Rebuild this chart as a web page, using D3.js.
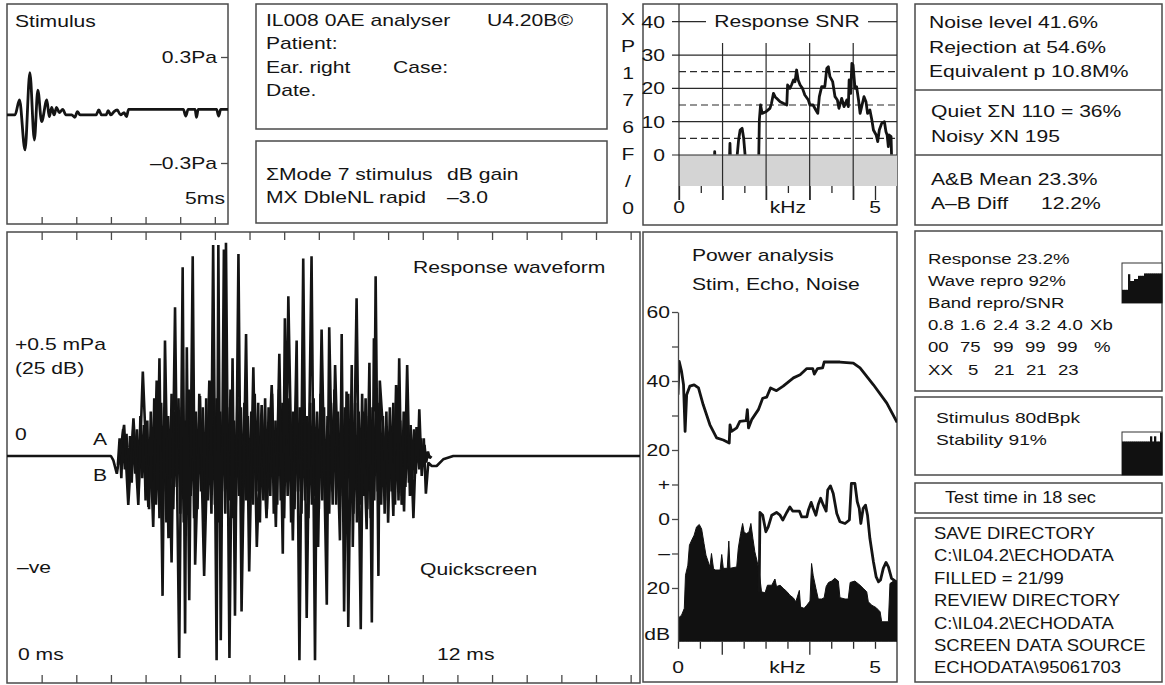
<!DOCTYPE html>
<html>
<head>
<meta charset="utf-8">
<script src="https://cdn.jsdelivr.net/npm/d3@7"></script>
<style>
  html, body { margin: 0; padding: 0; background: #fff; }
  svg { display: block; }
  text { font-family: "Liberation Sans", Arial, sans-serif; fill: #141414; }
</style>
</head>
<body>
<svg id="screen" width="1165" height="685"></svg>
<script>
// ---------------- data ----------------

// Stimulus click: [time ms, pressure Pa]
const stimulusTrace = [
  [0.00,-0.028],[0.23,-0.028],[0.36,0.057],[0.52,-0.226],[0.66,0.211],[0.79,-0.170],
  [0.89,0.113],[1.00,-0.066],[1.15,0.057],[1.22,-0.038],[1.29,0.015],[1.36,-0.028],
  [1.43,0.015],[1.51,-0.015],[1.61,0.004],[1.70,-0.028],[1.87,-0.028],[1.96,-0.041],
  [2.03,-0.009],[2.11,-0.028],[2.57,-0.028],[2.65,0.000],[2.73,-0.028],[2.86,-0.028],
  [2.92,-0.004],[3.00,-0.028],[3.09,-0.009],[3.18,0.000],[3.28,-0.028],[3.38,-0.015],
  [3.45,-0.038],[3.51,0.004],[5.09,0.004],[5.16,-0.034],[5.23,0.004],[5.43,0.004],
  [5.47,-0.041],[5.52,0.004],[6.05,0.004],[6.11,-0.034],[6.17,0.004],[6.38,0.004]
];
const stimulusTicksMs = [1, 2, 3, 4, 5, 6];
const stimulusPaTicks = [0.3, -0.3];
const stimulusPaLabels = ["0.3Pa", "\u20130.3Pa"];

// Response SNR: [frequency kHz, SNR dB]
const snrTrace = [
  [0.00,-4],[0.90,-4],[0.91,1],[0.93,-4],
  [1.28,-4],[1.30,3.5],[1.32,-4],
  [1.47,-2],[1.52,4.5],[1.56,7.5],[1.61,8],[1.65,5],[1.70,-2],
  [2.03,-4],[2.05,10.5],[2.08,15],[2.12,12.5],[2.22,13],[2.32,14],[2.36,15.5],[2.41,18.5],
  [2.45,17.5],[2.49,17],[2.58,16],[2.66,15.5],[2.75,15],[2.77,21],[2.83,20],[2.87,21],
  [2.92,22.5],[2.96,22],[3.00,25.5],[3.04,22.5],[3.09,21],[3.15,20],[3.21,18],[3.30,16.5],
  [3.34,15],[3.42,15],[3.49,13.5],[3.54,12.5],[3.58,17.5],[3.64,20.5],[3.72,20.5],[3.77,26],
  [3.81,26.5],[3.85,23.5],[3.92,22],[3.98,17.5],[4.04,16.5],[4.08,14],[4.15,17],[4.21,14.5],
  [4.28,16.5],[4.32,14.5],[4.34,22.5],[4.38,18.5],[4.41,27.5],[4.44,27],[4.49,20],[4.53,20.5],
  [4.58,16.5],[4.62,12.5],[4.66,14.5],[4.72,17.5],[4.77,16],[4.81,12.5],[4.87,13.5],[4.92,10.5],
  [4.96,7.5],[5.03,6],[5.07,4],[5.11,7.5],[5.17,9.5],[5.24,10],[5.28,7],[5.31,6],[5.34,2.5],
  [5.36,6],[5.41,5.5],[5.43,-4],[5.56,-4]
];
const snrTickValues = [40, 30, 20, 10, 0];
const snrSolidGrid = [10, 20, 30];
const snrDashedGrid = [5, 15, 25];
const snrFloor = -9.3;

// Frequency axis shared by the two spectra: ten ticks across 0..5 kHz
const kHzTicks = [0, 0.556, 1.111, 1.667, 2.222, 2.778, 3.333, 3.889, 4.444, 5.0];
const kHzLabels = ["0", "", "", "", "", "kHz", "", "", "", "5"];

// Power analysis: [frequency kHz, level dB]
const stimPower = [
  [0.00,36],[0.03,45.7],[0.09,42.8],[0.14,38.9],[0.18,25.4],[0.22,36],[0.30,38.5],[0.41,38.9],
  [0.52,38],[0.64,33.1],[0.81,27.3],[0.98,23.5],[1.15,22.9],[1.30,22],[1.32,27.3],[1.36,25.4],
  [1.49,26.4],[1.57,28.3],[1.73,28.5],[1.76,31.7],[1.79,26.4],[1.87,28.8],[2.04,31.7],[2.15,35],
  [2.25,35.3],[2.35,38],[2.50,37.2],[2.67,38.5],[2.93,40.9],[3.10,41.8],[3.27,43.6],[3.42,43.6],
  [3.46,42],[3.54,43.6],[3.67,43.8],[3.71,45.5],[4.11,45.5],[4.45,45.2],[4.62,43.8],[4.96,38.9],
  [5.30,33.6],[5.56,28.0]
];
const echoPower = [
  [2.06,-21.1],[2.08,1.9],[2.15,1.1],[2.23,-3.7],[2.29,-2.3],[2.38,1.1],[2.50,1.9],[2.59,1.1],
  [2.66,-0.3],[2.76,1.9],[2.84,3.5],[2.91,2.3],[3.08,2.3],[3.14,0.6],[3.27,0.6],[3.31,2.6],
  [3.38,4.8],[3.43,3.1],[3.50,1.1],[3.56,4.2],[3.62,6.0],[3.69,4.0],[3.76,2.3],[3.80,8.4],
  [3.87,9.6],[3.94,7.4],[4.03,1.6],[4.11,-0.8],[4.24,-1.3],[4.35,-0.3],[4.40,10.3],[4.49,10.3],
  [4.55,5.0],[4.60,3.1],[4.64,-1.3],[4.70,3.1],[4.76,4.0],[4.81,1.1],[4.87,-5.6],[4.96,-12.4],
  [5.03,-16.8],[5.09,-18.2],[5.14,-17.7],[5.21,-14.3],[5.28,-12.6],[5.34,-13.9],[5.42,-17.2],
  [5.56,-18.4]
];
const noisePower = [
  [0.00,-28.8],[0.09,-27.9],[0.16,-25.9],[0.19,-16.3],[0.25,-13.4],[0.29,-7.6],[0.35,-6.1],
  [0.41,-4.7],[0.47,-2.3],[0.54,-1.6],[0.60,-2.9],[0.66,-7.1],[0.71,-10.5],[0.81,-13.9],
  [0.85,-10.0],[0.90,-14.3],[0.94,-14.8],[1.07,-14.8],[1.11,-10.3],[1.15,-14.3],[1.25,-14.3],
  [1.29,-6.4],[1.32,-14.3],[1.49,-13.9],[1.53,-8.5],[1.59,-4.2],[1.64,-1.3],[1.68,-3.9],
  [1.74,-4.2],[1.80,-3.8],[1.85,-1.3],[1.90,-5.6],[1.95,-9.5],[2.01,-12.4],[2.06,-15.3],
  [2.12,-21.1],[2.21,-21.4],[2.27,-19.2],[2.38,-19.2],[2.46,-17.4],[2.50,-19.6],[2.59,-19.2],
  [2.67,-20.1],[2.76,-21.0],[2.84,-22.1],[2.93,-22.9],[2.99,-24.0],[3.08,-20.7],[3.11,-25.5],
  [3.20,-25.9],[3.27,-25.0],[3.35,-23.8],[3.39,-12.9],[3.43,-16.3],[3.50,-20.1],[3.56,-23.2],
  [3.65,-23.2],[3.71,-22.8],[3.76,-19.6],[3.82,-18.4],[3.90,-18.0],[3.98,-17.2],[4.07,-18.0],
  [4.11,-22.8],[4.24,-23.2],[4.32,-23.2],[4.37,-18.4],[4.49,-18.0],[4.62,-19.2],[4.70,-20.1],
  [4.79,-21.1],[4.83,-24.0],[4.92,-25.0],[5.03,-25.7],[5.13,-26.9],[5.17,-29.8],[5.34,-29.8],
  [5.38,-18.7],[5.47,-18.0],[5.56,-18.0]
];
const powerTickValues = [60, 50, 40, 30, 20, 10, 0, -10, -20];
const powerTickLabels = ["60", "", "40", "", "20", "+", "0", "\u2013", "20"];
const powerFloor = -35.6;

// Response waveform A: [time ms, amplitude (1 = full scale)]
const waveA = [
  [0,0],[3.00,0],[3.07,-0.02],[3.17,-0.08],[3.38,0.14],[3.50,-0.22],[3.65,0.17],[3.79,-0.22],
  [3.92,0.38],[4.08,-0.23],[4.15,0.0],[4.22,-0.32],[4.32,0.34],[4.36,0.05],[4.40,0.44],
  [4.49,-0.63],[4.56,0.52],[4.66,-0.37],[4.70,-0.1],[4.75,-0.48],[4.85,0.67],[4.97,-0.91],
  [5.07,0.85],[5.14,-0.80],[5.19,0.49],[5.26,-0.65],[5.36,0.90],[5.43,-0.49],[5.57,0.27],
  [5.69,-0.54],[5.84,0.34],[5.90,0.0],[5.95,0.95],[6.05,-0.92],[6.10,0.95],[6.17,-0.83],
  [6.26,0.93],[6.29,0.1],[6.32,0.96],[6.42,-0.91],[6.51,0.44],[6.58,-0.72],[6.68,0.91],
  [6.77,-0.70],[6.90,0.55],[6.99,-0.52],[7.11,0.40],[7.21,-0.41],[7.35,0.23],[7.49,-0.28],
  [7.64,0.32],[7.76,-0.32],[7.86,0.46],[7.96,-0.44],[8.02,0.62],[8.07,0.05],[8.12,0.72],
  [8.25,-0.38],[8.36,0.52],[8.44,-0.92],[8.55,0.89],[8.65,-0.73],[8.79,0.90],[8.89,-0.92],
  [8.94,0.1],[8.98,-0.41],[9.08,0.57],[9.23,-0.67],[9.30,0.58],[9.40,-0.22],[9.47,0.41],
  [9.61,-0.38],[9.66,0.55],[9.73,-0.70],[9.80,0.29],[9.85,-0.77],[9.95,0.41],[9.98,-0.41],
  [10.09,0.71],[10.21,-0.78],[10.27,0.20],[10.38,-0.33],[10.46,0.42],[10.53,-0.75],
  [10.59,0.53],[10.61,0.2],[10.64,0.81],[10.72,-0.54],[10.76,0.34],[10.91,-0.02],[10.95,0.1],
  [11.00,-0.30],[11.07,0.13],[11.15,-0.27],[11.23,0.32],[11.28,0.0],[11.32,0.44],[11.39,-0.22],
  [11.42,-0.05],[11.46,-0.25],[11.55,0.41],[11.63,-0.18],[11.68,-0.05],[11.73,-0.28],
  [11.82,0.13],[11.86,0.0],[11.90,0.21],[11.97,-0.09],[12.03,0.08],[12.09,-0.17],[12.16,-0.03],
  [12.26,-0.045],[12.40,-0.045],[12.59,-0.015],[12.88,0],[18.27,0]
];
// Response waveform B: sampled every 0.05 ms from 3.2 ms
const waveBStart = 3.2, waveBStep = 0.05;
const waveB = [
  -0.04,0.08,-0.10,0.12,-0.06,0.10,-0.14,0.09,-0.12,0.15,-0.08,0.12,-0.16,0.18,-0.10,0.14,
  -0.20,0.16,-0.24,0.20,-0.18,0.26,-0.22,0.14,-0.28,0.24,-0.16,0.22,-0.30,0.18,-0.20,0.28,-0.24,0.20,-0.14,0.26,
  -0.26,0.22,-0.30,0.16,-0.22,0.30,-0.18,0.24,-0.28,0.20,-0.24,0.28,-0.16,0.22,-0.30,0.26,-0.20,0.18,-0.26,0.30,
  -0.22,0.26,-0.30,0.20,-0.16,0.28,-0.26,0.22,-0.20,0.30,-0.28,0.16,-0.24,0.26,-0.18,0.22,-0.30,0.24,-0.20,0.18,
  -0.26,0.20,-0.22,0.28,-0.16,0.24,-0.30,0.18,-0.20,0.26,-0.24,0.22,-0.18,0.28,-0.26,0.16,-0.22,0.30,-0.20,0.24,
  -0.28,0.22,-0.18,0.26,-0.30,0.20,-0.24,0.28,-0.16,0.22,-0.26,0.30,-0.20,0.18,-0.28,0.24,-0.22,0.26,-0.18,0.20,
  -0.24,0.28,-0.20,0.22,-0.30,0.18,-0.26,0.24,-0.16,0.30,-0.22,0.20,-0.28,0.26,-0.18,0.22,-0.24,0.28,-0.20,0.16,
  -0.26,0.24,-0.30,0.20,-0.22,0.28,-0.18,0.26,-0.24,0.18,-0.28,0.22,-0.20,0.26,-0.16,0.24,-0.22,0.18,-0.26,0.20,
  -0.20,0.22,-0.16,0.24,-0.22,0.18,-0.20,0.16,-0.18,0.20,-0.14,0.16,-0.12,0.14,-0.10,0.12,-0.08,0.10,-0.06,0.08,
  -0.04,0.05,-0.03,0.02,-0.01,0.0
];
const waveTicksMs = [1,2,3,4,5,6,7,8,9,10,11,12,13,14,15,16,17,18];

// Mini reproducibility / stability bars (fraction of box height)
const reproBars = [0.33,0.33,0.33,0.72,0.55,0.55,0.6,0.6,0.68,0.68,0.68,0.74,0.74,0.74,0.74,0.74,0.74,0.74,0.74,0.74];
const stabilityBars = [0.78,0.78,0.78,0.78,0.78,0.78,0.78,0.78,0.78,0.78,0.78,0.78,0.78,0.78,0.9,0.78,0.9,0.78,0.78,0.99];

// Text blocks
const headerLines = ["IL008 0AE analyser", "Patient:", "Ear. right", "Date."];
const modeLines = ["\u03A3Mode 7 stimulus", "MX DbleNL rapid"];
const modeValues = ["dB gain", "\u20133.0"];
const sideLetters = ["X", "P", "1", "7", "6", "F", "/", "0"];
const noiseLines = ["Noise level 41.6%", "Rejection at 54.6%", "Equivalent p 10.8M%"];
const quietLines = ["Quiet \u03A3N 110 = 36%", "Noisy XN 195"];
const responseLines = ["Response 23.2%", "Wave repro 92%", "Band repro/SNR"];
const bandFreqs = ["0.8", "1.6", "2.4", "3.2", "4.0", "Xb"];
const bandRepro = ["00", "75", "99", "99", "99", "%"];
const bandSnr = ["XX", "5", "21", "21", "23"];
const saveLines = ["SAVE DIRECTORY", "C:\\IL04.2\\ECHODATA", "FILLED = 21/99",
  "REVIEW DIRECTORY", "C:\\IL04.2\\ECHODATA", "SCREEN DATA SOURCE", "ECHODATA\\95061703"];

// ---------------- drawing ----------------
const svg = d3.select("#screen");
const INK = "#141414", FRAME = "#4a4a4a", GRID = "#2a2a2a";
const SX = 1.32;   // wide screen lettering

function label(x, y, s, size = 16, anchor = "start", sx = SX) {
  return svg.append("text")
    .attr("transform", `translate(${x},${y}) scale(${sx},1)`)
    .attr("font-size", size)
    .attr("text-anchor", anchor)
    .text(s);
}
function frame(x0, y0, x1, y1) {
  svg.append("rect")
    .attr("x", x0).attr("y", y0).attr("width", x1 - x0).attr("height", y1 - y0)
    .attr("fill", "none").attr("stroke", FRAME).attr("stroke-width", 1.5);
}
function hline(x0, x1, y, opts = {}) {
  svg.append("line").attr("x1", x0).attr("x2", x1).attr("y1", y).attr("y2", y)
    .attr("stroke", opts.color || GRID).attr("stroke-width", opts.width || 1.2)
    .attr("stroke-dasharray", opts.dash || null);
}
function vline(x, y0, y1, opts = {}) {
  svg.append("line").attr("x1", x).attr("x2", x).attr("y1", y0).attr("y2", y1)
    .attr("stroke", opts.color || GRID).attr("stroke-width", opts.width || 1.2);
}
function styleAxis(g) {
  g.selectAll("line").attr("stroke", FRAME).attr("stroke-width", 1.3);
  g.selectAll("path.domain").attr("stroke", FRAME).attr("stroke-width", 1.3);
  g.selectAll("text").remove();
}
const defs = svg.append("defs");
function clip(id, x0, y0, x1, y1) {
  defs.append("clipPath").attr("id", id).append("rect")
    .attr("x", x0).attr("y", y0).attr("width", x1 - x0).attr("height", y1 - y0);
  return `url(#${id})`;
}

// ----- Stimulus panel -----
{
  const x = d3.scaleLinear().domain([0, 6.38]).range([7, 228]);
  const y = d3.scaleLinear().domain([-0.3, 0.3]).range([163, 57]);
  frame(7, 4, 228, 224);
  svg.append("g").attr("transform", "translate(0,224)")
    .call(d3.axisTop(x).tickValues(stimulusTicksMs).tickSize(7).tickSizeOuter(0))
    .call(styleAxis).select("path.domain").remove();
  svg.append("g").attr("transform", "translate(228,0)")
    .call(d3.axisLeft(y).tickValues(stimulusPaTicks).tickSize(7).tickSizeOuter(0))
    .call(styleAxis).select("path.domain").remove();
  stimulusPaTicks.forEach((v, i) => label(217, y(v) + 6, stimulusPaLabels[i], 16, "end"));
  label(15, 27, "Stimulus");
  label(225, 204, "5ms", 16, "end");
  svg.append("path").datum(stimulusTrace)
    .attr("clip-path", clip("clipStim", 7, 4, 228, 224))
    .attr("fill", "none").attr("stroke", INK).attr("stroke-width", 2.8)
    .attr("stroke-linejoin", "round")
    .attr("d", d3.line().x(d => x(d[0])).y(d => y(d[1])).curve(d3.curveMonotoneX));
}

// ----- Header text panels -----
frame(256, 4, 607, 129);
headerLines.forEach((s, i) => label(266, 26 + i * 23.3, s));
label(487, 26, "U4.20B\u00A9");
label(393, 72.6, "Case:");
frame(256, 141, 607, 223);
modeLines.forEach((s, i) => label(266, 180 + i * 23, s));
modeValues.forEach((s, i) => label(447, 180 + i * 23, s));
sideLetters.forEach((s, i) => label(628, 25 + i * 27, s, 16, "middle"));

// ----- Response SNR panel -----
{
  const x = d3.scaleLinear().domain([0, 5]).range([679, 875]);
  const y = d3.scaleLinear().domain([0, 40]).range([155, 21.7]);
  frame(643, 4, 897, 225);
  svg.append("rect").attr("x", x(0)).attr("y", y(0))
    .attr("width", 897 - x(0)).attr("height", y(snrFloor) - y(0)).attr("fill", "#d4d4d4");
  snrSolidGrid.concat([0]).forEach(v => hline(672, 897, y(v)));
  snrDashedGrid.forEach(v => hline(679, 897, y(v), { dash: "7,4" }));
  // title sits on the 40 dB line
  hline(672, 706, y(40));
  hline(868, 897, y(40));
  label(787, 27, "Response SNR", 16, "middle");
  snrTickValues.forEach(v => label(665, y(v) + 6, String(v), 16, "end"));
  // verticals through the band edges
  kHzTicks.forEach((k, i) => {
    if (i > 0 && i < 9 && i % 2 === 0) vline(x(k), 43, 200);
  });
  vline(x(0), 4, 200);
  const ax = svg.append("g").attr("transform", `translate(0,${y(snrFloor)})`)
    .call(d3.axisBottom(x).tickValues(kHzTicks).tickSize(7).tickSizeOuter(0))
    .call(styleAxis);
  ax.select("path.domain").remove();
  ax.selectAll(".tick line").attr("stroke", GRID)
    .attr("y2", (d, i) => (i % 2 === 0 || i === 9) ? 14 : 7);
  kHzTicks.forEach((k, i) => { if (kHzLabels[i]) label(x(k), 213, kHzLabels[i], 16, "middle"); });
  svg.append("path").datum(snrTrace)
    .attr("clip-path", clip("clipSnr", x(0), 4, 897, y(0) - 0.5))
    .attr("fill", "none").attr("stroke", INK).attr("stroke-width", 2.8)
    .attr("stroke-linejoin", "round")
    .attr("d", d3.line().x(d => x(d[0])).y(d => y(d[1])));
}

// ----- Right-hand status panels -----
frame(915, 4, 1162, 225);
hline(915, 1162, 90, { color: FRAME, width: 1.5 });
hline(915, 1162, 155, { color: FRAME, width: 1.5 });
noiseLines.forEach((s, i) => label(929, 28 + i * 24.7, s));
quietLines.forEach((s, i) => label(931, 117 + i * 25, s));
label(931, 185, "A&B Mean 23.3%");
label(931, 209, "A\u2013B Diff");
label(1041, 209, "12.2%");

frame(915, 231, 1162, 391);
responseLines.forEach((s, i) => label(928, 264 + i * 22, s, 15, "start", 1.24));
const bandCols = [928, 960, 993, 1025, 1057, 1090];
bandFreqs.forEach((s, i) => label(bandCols[i], 330, s, 15, "start", 1.24));
bandRepro.forEach((s, i) => label(i === 5 ? 1094 : bandCols[i], 352, s, 15, "start", 1.24));
const snrCols = [928, 968, 994, 1026, 1058];
bandSnr.forEach((s, i) => label(snrCols[i], 375, s, 15, "start", 1.24));

frame(915, 397, 1162, 475);
label(936, 423, "Stimulus 80dBpk", 15, "start", 1.28);
label(936, 445, "Stability 91%", 15, "start", 1.28);

frame(915, 483, 1162, 513);
label(945, 503, "Test time in 18 sec", 16, "start", 1.14);

frame(915, 518, 1162, 682);
saveLines.forEach((s, i) => label(934, 539 + i * 22.4, s, 16, "start", 1.155));

// mini bar boxes
function miniBars(values, x0, y0, x1, y1) {
  const bx = d3.scaleBand().domain(d3.range(values.length)).range([x0, x1]).padding(0);
  const by = d3.scaleLinear().domain([0, 1]).range([y1, y0]);
  svg.append("rect").attr("x", x0).attr("y", y0).attr("width", x1 - x0).attr("height", y1 - y0)
    .attr("fill", "#fff").attr("stroke", "#333").attr("stroke-width", 1);
  svg.append("g").selectAll("rect").data(values).join("rect")
    .attr("x", (d, i) => bx(i)).attr("width", bx.bandwidth() + 0.3)
    .attr("y", d => by(d)).attr("height", d => y1 - by(d))
    .attr("fill", "#111");
}
miniBars(reproBars, 1122, 263, 1162, 303);
miniBars(stabilityBars, 1122, 432, 1162, 475);

// ----- Response waveform panel -----
{
  const x = d3.scaleLinear().domain([0, 18.27]).range([7, 640]);
  const y = d3.scaleLinear().domain([-1, 1]).range([678, 234]);
  frame(7, 232, 640, 683);
  svg.append("g").attr("transform", "translate(0,232)")
    .call(d3.axisBottom(x).tickValues(waveTicksMs).tickSize(8).tickSizeOuter(0))
    .call(styleAxis).select("path.domain").remove();
  svg.append("g").attr("transform", "translate(0,683)")
    .call(d3.axisTop(x).tickValues(waveTicksMs).tickSize(8).tickSizeOuter(0))
    .call(styleAxis).select("path.domain").remove();
  const cp = clip("clipWave", 7, 232, 640, 683);
  const waveLine = d3.line().x(d => x(d[0])).y(d => y(d[1]));
  const waveBPoints = waveB.map((v, i) => [waveBStart + i * waveBStep, v]);
  [waveBPoints, waveA].forEach(series => {
    svg.append("path").datum(series).attr("clip-path", cp)
      .attr("fill", "none").attr("stroke", INK).attr("stroke-width", 2.6)
      .attr("stroke-linejoin", "bevel").attr("d", waveLine);
  });
  label(413, 273, "Response waveform");
  label(15, 350, "+0.5 mPa");
  label(15, 374, "(25 dB)");
  label(15, 440, "0");
  label(93, 445, "A");
  label(93, 481, "B");
  label(17, 573, "\u2013ve");
  label(420, 575, "Quickscreen");
  label(18, 660, "0 ms");
  label(437, 660, "12 ms");
}

// ----- Power analysis panel -----
{
  const x = d3.scaleLinear().domain([0, 5]).range([678, 875]);
  const y = d3.scaleLinear().domain([powerFloor, 60]).range([641.8, 312]);
  frame(643, 232, 897, 682);
  label(692, 261, "Power analysis");
  label(692, 290, "Stim, Echo, Noise");
  const cp = clip("clipPower", 678, 300, 897, y(powerFloor));
  svg.append("path").datum(noisePower).attr("clip-path", cp)
    .attr("fill", "#111").attr("stroke", "#111").attr("stroke-width", 1)
    .attr("d", d3.area().x(d => x(d[0])).y0(y(powerFloor)).y1(d => y(d[1])));
  [stimPower, echoPower].forEach(series => {
    svg.append("path").datum(series).attr("clip-path", cp)
      .attr("fill", "none").attr("stroke", INK).attr("stroke-width", 2.8)
      .attr("stroke-linejoin", "round")
      .attr("d", d3.line().x(d => x(d[0])).y(d => y(d[1])));
  });
  svg.append("g").attr("transform", "translate(678,0)")
    .call(d3.axisLeft(y).tickValues(powerTickValues).tickSize(6).tickSizeOuter(0))
    .call(styleAxis);
  powerTickValues.forEach((v, i) => {
    if (powerTickLabels[i]) label(670, y(v) + 6, powerTickLabels[i], 16, "end");
  });
  label(670, 640, "dB", 16, "end");
  const ax = svg.append("g").attr("transform", `translate(0,${y(powerFloor)})`)
    .call(d3.axisBottom(x).tickValues(kHzTicks).tickSize(6).tickSizeOuter(0))
    .call(styleAxis);
  ax.select("path.domain").remove();
  ax.selectAll(".tick line").attr("stroke", GRID)
    .attr("y2", (d, i) => (i === 2 || i === 6) ? 13 : 7);
  kHzTicks.forEach((k, i) => { if (kHzLabels[i]) label(x(k), 673, kHzLabels[i], 16, "middle"); });
}
</script>
</body>
</html>
